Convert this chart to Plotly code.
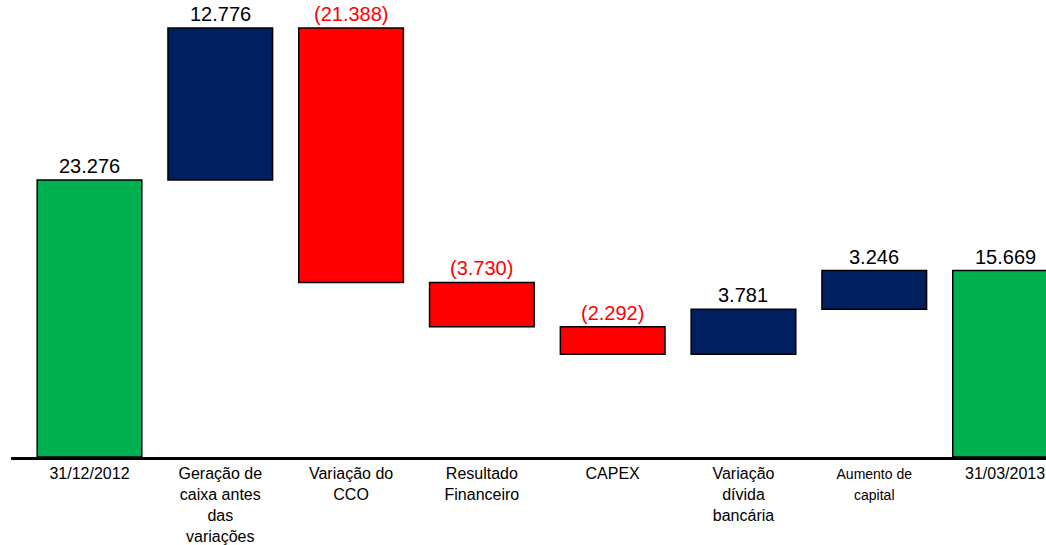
import plotly.graph_objects as go

categories = ["31/12/2012", "Geração de caixa antes das variações", "Variação do CCO",
              "Resultado Financeiro", "CAPEX", "Variação dívida bancária",
              "Aumento de capital", "31/03/2013"]
tick_labels = ["31/12/2012", "Geração de<br>caixa antes<br>das<br>variações", "Variação do<br>CCO",
               "Resultado<br>Financeiro", "CAPEX", "Variação<br>dívida<br>bancária",
               "<span style='font-size:14px'>Aumento de<br>capital</span>", "31/03/2013"]
values = [23276, 12776, -21388, -3730, -2292, 3781, 3246, 15669]
measures = ["absolute", "relative", "relative", "relative", "relative", "relative", "relative", "total"]

GREEN = "#00B050"
NAVY = "#002060"
RED = "#FF0000"
FONT = "Arial, Liberation Sans, sans-serif"

fig = go.Figure(go.Waterfall(
    x=categories,
    y=values,
    measure=measures,
    increasing=dict(marker=dict(color=NAVY, line=dict(color="black", width=1.5))),
    decreasing=dict(marker=dict(color=RED, line=dict(color="black", width=1.5))),
    totals=dict(marker=dict(color=GREEN, line=dict(color="black", width=1.5))),
    connector=dict(visible=False),
    width=0.8,
    hoverinfo="skip",
))

def fmt(v):
    s = f"{abs(v):,}".replace(",", ".")
    return f"({s})" if v < 0 else s

cum = 0
for cat, v, m in zip(categories, values, measures):
    if m == "absolute":
        start, end = 0, v
        cum = v
    elif m == "total":
        start, end = 0, cum
    else:
        start, end = cum, cum + v
        cum = end
    top = max(start, end)
    fig.add_annotation(x=cat, y=top, xref="x", yref="y", text=fmt(v),
                       showarrow=False, yanchor="bottom", yshift=1,
                       font=dict(family=FONT, size=20, color=RED if v < 0 else "black"))

fig.update_layout(
    width=1046, height=545,
    margin=dict(l=11, r=0, t=0, b=88),
    paper_bgcolor="white", plot_bgcolor="white",
    showlegend=False,
    font=dict(family=FONT, color="black"),
    xaxis=dict(
        type="category",
        tickmode="array", tickvals=categories, ticktext=tick_labels,
        tickfont=dict(family=FONT, size=16, color="black"),
        range=[-0.600, 7.313],
        showline=True, linecolor="black", linewidth=3,
        showgrid=False, zeroline=False, ticks="",
        fixedrange=True,
    ),
    yaxis=dict(
        range=[0, 38.4e3], visible=False, showgrid=False, zeroline=False,
        fixedrange=True,
    ),
)

fig.write_html("out.html")
